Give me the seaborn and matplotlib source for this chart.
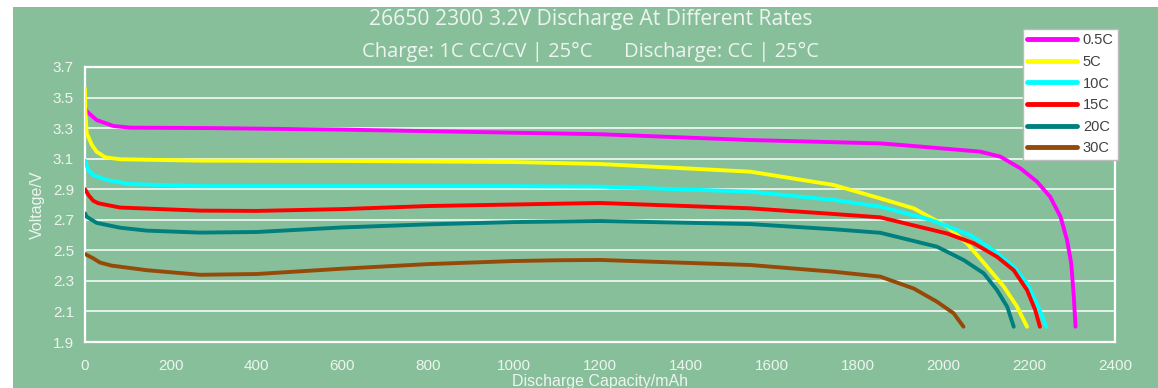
import numpy as np
import pandas as pd
import seaborn as sns
import matplotlib.pyplot as plt
from matplotlib.patches import Rectangle

# ---- data (capacity mAh, voltage V)
cap_05c = [0, 4, 27, 66, 105, 300, 600, 1000, 1200, 1550, 1853, 1900, 2086, 2133, 2180, 2218, 2249, 2273, 2288, 2298, 2304, 2308]
v_05c = [3.44, 3.41, 3.353, 3.314, 3.303, 3.30, 3.29, 3.27, 3.26, 3.222, 3.20, 3.19, 3.146, 3.113, 3.036, 2.95, 2.85, 2.72, 2.57, 2.415, 2.197, 2.0]

cap_5c = [0, 1, 4, 16, 27, 47, 82, 268, 600, 1000, 1200, 1550, 1744, 1853, 1931, 2009, 2055, 2102, 2141, 2172, 2195]
v_5c = [3.56, 3.40, 3.266, 3.19, 3.146, 3.109, 3.096, 3.087, 3.085, 3.078, 3.065, 3.015, 2.928, 2.84, 2.775, 2.655, 2.546, 2.393, 2.262, 2.13, 2.0]

cap_10c = [0, 8, 19, 51, 105, 268, 1000, 1200, 1550, 1744, 1853, 1970, 2063, 2117, 2164, 2195, 2218, 2240]
v_10c = [3.087, 3.026, 2.993, 2.96, 2.934, 2.92, 2.92, 2.917, 2.884, 2.83, 2.786, 2.70, 2.60, 2.50, 2.393, 2.284, 2.15, 2.0]

cap_15c = [0, 8, 19, 31, 82, 268, 400, 600, 800, 1000, 1200, 1550, 1744, 1853, 2009, 2071, 2125, 2164, 2195, 2214, 2225]
v_15c = [2.90, 2.862, 2.825, 2.808, 2.78, 2.76, 2.758, 2.77, 2.79, 2.80, 2.81, 2.775, 2.738, 2.716, 2.61, 2.546, 2.458, 2.37, 2.24, 2.11, 2.0]

cap_20c = [0, 4, 27, 82, 144, 268, 400, 600, 800, 1000, 1200, 1550, 1744, 1853, 1985, 2047, 2094, 2125, 2149, 2164]
v_20c = [2.742, 2.72, 2.68, 2.648, 2.629, 2.616, 2.62, 2.65, 2.67, 2.685, 2.692, 2.672, 2.638, 2.615, 2.524, 2.437, 2.35, 2.24, 2.13, 2.0]

cap_30c = [0, 19, 35, 62, 144, 268, 400, 600, 800, 1000, 1100, 1200, 1550, 1744, 1853, 1931, 1985, 2024, 2047]
v_30c = [2.476, 2.448, 2.42, 2.40, 2.37, 2.34, 2.345, 2.38, 2.41, 2.43, 2.435, 2.437, 2.404, 2.36, 2.328, 2.25, 2.164, 2.088, 2.0]

rates = ["0.5C", "5C", "10C", "15C", "20C", "30C"]
colors = ["#FF00FF", "#FFFF00", "#00FFFF", "#FF0000", "#007F7F", "#954A0A"]

series = [(cap_05c, v_05c), (cap_5c, v_5c), (cap_10c, v_10c),
          (cap_15c, v_15c), (cap_20c, v_20c), (cap_30c, v_30c)]
frames = []
for r, (c, v) in zip(rates, series):
    frames.append(pd.DataFrame({"cap": c, "volt": v, "rate": r}))
df = pd.concat(frames, ignore_index=True)

green = "#88BF9B"
light = "#EEF4EF"

sns.set_style("white")
plt.rcParams['font.family'] = ['Liberation Sans', 'DejaVu Sans']

fig = plt.figure(figsize=(11.58, 3.88), dpi=100, facecolor="white")
fig.patches.append(Rectangle((13 / 1158, 0), 1, 1 - 7 / 388, transform=fig.transFigure,
                             facecolor=green, edgecolor="none", zorder=-5))
ax = fig.add_axes([85 / 1158, 1 - 342 / 388, 1030 / 1158, 275 / 388])
ax.set_facecolor(green)

sns.lineplot(data=df, x="cap", y="volt", hue="rate", palette=colors, hue_order=rates,
             sort=False, estimator=None, linewidth=2.8, ax=ax, legend=False, zorder=3)

ax.set_xlim(0, 2400)
ax.set_ylim(1.9, 3.7)
ax.set_xticks(np.arange(0, 2401, 200))
yt = np.arange(1.9, 3.71, 0.2)
ax.set_yticks(yt)
ax.set_yticklabels([f"{t:.1f}" for t in yt])
ax.tick_params(axis="x", direction="in", length=4, color="#D8E6DC", colors=light, labelsize=11, pad=12)
ax.tick_params(axis="y", length=0, colors=light, labelsize=11, pad=8)
ax.grid(axis="y", color="white", linewidth=1.2, alpha=0.9)
for s in ax.spines.values():
    s.set_color("white")
    s.set_linewidth(1.6)
    s.set_visible(True)

ax.set_xlabel("Discharge Capacity/mAh", color=light, fontsize=11.5, labelpad=1)
ax.set_ylabel("Voltage/V", color=light, fontsize=11.5, labelpad=6)

fig.text(0.51, 1 - 20 / 388, "26650 2300 3.2V Discharge At Different Rates", ha="center", va="center",
         color=light, fontsize=15.2, family=["Open Sans", "DejaVu Sans"])
fig.text(0.51, 1 - 52 / 388, "Charge: 1C CC/CV | 25\u00b0C      Discharge: CC | 25\u00b0C", ha="center",
         va="center", color=light, fontsize=14.5, family=["Open Sans", "DejaVu Sans"])

handles = [plt.Line2D([], [], color=c, linewidth=3.5, solid_capstyle="round") for c in colors]
leg = fig.legend(handles, rates, loc="upper left", bbox_to_anchor=(1023 / 1158, 1 - 29 / 388),
                 frameon=True, fancybox=False, fontsize=10.5, handlelength=3.4, labelspacing=0.52,
                 borderpad=0.3, handletextpad=0.4, borderaxespad=0)
leg.get_frame().set_facecolor("white")
leg.get_frame().set_edgecolor("#BBBBBB")
leg.get_frame().set_alpha(1)
for t in leg.get_texts():
    t.set_color("#404040")

fig.savefig("out.png", dpi=100, facecolor=fig.get_facecolor())
